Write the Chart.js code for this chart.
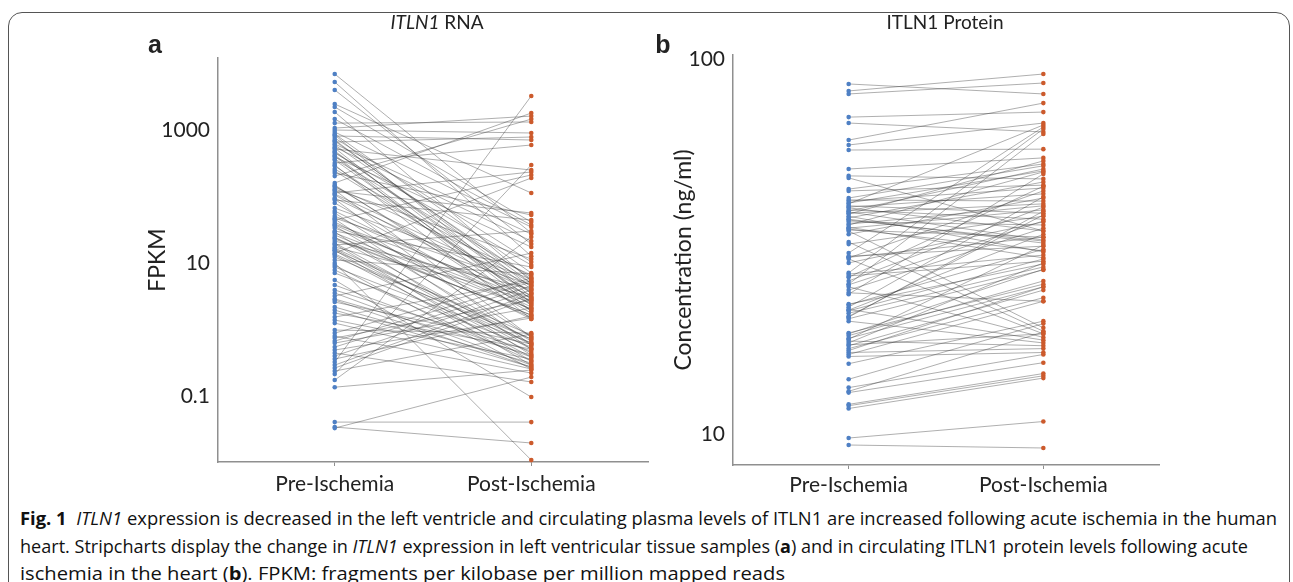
<!DOCTYPE html>
<html>
<head>
<meta charset="utf-8">
<script src="https://cdn.jsdelivr.net/npm/chart.js@4.4.1/dist/chart.umd.min.js"></script>
<style>
	body { margin: 0; width: 1293px; height: 582px; overflow: hidden; background: #fff; position: relative; font-family: Lato, sans-serif; color: #222; }
	#frame { position: absolute; left: 8px; top: 12px; width: 1280px; height: 640px; border: 1.5px solid #555; border-radius: 14px; }
	canvas { position: absolute; top: 0; }
	#chart-a { left: 0; }
	#chart-b { left: 640px; }
	.panel-title { position: absolute; font-size: 19px; transform: translate(-50%, -50%); white-space: nowrap; }
	.panel-tag { position: absolute; font-family: "Liberation Sans", Arial, sans-serif; font-weight: bold; font-size: 25px; transform: translate(-50%, -50%); }
	#caption { position: absolute; left: 20px; top: 504px; font-family: "Open Sans", sans-serif; font-size: 18.5px; color: #111; line-height: 27.5px; }
	#caption div { white-space: nowrap; }
	#caption span { display: inline-block; transform-origin: 0 50%; }
</style>
</head>
<body>
<div id="frame"></div>
<canvas id="chart-a" width="660" height="500"></canvas>
<canvas id="chart-b" width="653" height="500"></canvas>
<div class="panel-tag" style="left:155px; top:44px;">a</div>
<div class="panel-tag" style="left:663px; top:44px;">b</div>
<div class="panel-title" style="left:437px; top:21px;"><i>ITLN1</i> RNA</div>
<div class="panel-title" style="left:945px; top:21px;">ITLN1 Protein</div>
<div id="caption">
	<div><span data-w="1257"><b>Fig. 1</b>&nbsp; <i>ITLN1</i> expression is decreased in the left ventricle and circulating plasma levels of ITLN1 are increased following acute ischemia in the human</span></div>
	<div><span data-w="1228">heart. Stripcharts display the change in <i>ITLN1</i> expression in left ventricular tissue samples (<b>a</b>) and in circulating ITLN1 protein levels following acute</span></div>
	<div><span data-w="765">ischemia in the heart (<b>b</b>). FPKM: fragments per kilobase per million mapped reads</span></div>
</div>
<script>
	var groups = ['Pre-Ischemia', 'Post-Ischemia'];

	// panel a: FPKM per sample, same order in both arrays (pairs)
	var rnaPre = [6950, 5270, 4000, 2460, 2220, 1870, 1270, 1070, 1000, 933, 871, 813, 758, 708, 660, 555, 518, 483, 451, 421,
		393, 366, 319, 288, 259, 226, 160, 149, 139, 130, 121, 113, 105, 94.9, 88.6, 67.1, 60.5, 56.5, 47.5, 44.3,
		41.4, 38.6, 36.0, 33.6, 30.3, 28.3, 24.6, 23.0, 21.4, 20.0, 18.7, 17.4, 16.3, 15.2, 14.1, 13.2, 12.3, 11.1, 10.0, 8.71,
		7.85, 7.08, 5.55, 3.93, 3.54, 3.19, 2.88, 2.18, 1.96, 1.54, 1.39, 1.25, 0.982, 0.885, 0.798, 0.745, 0.671, 0.627, 0.546, 0.492,
		0.444, 0.400, 0.360, 0.324, 0.292, 0.264, 0.238, 0.214, 0.174, 0.136, 0.0406, 0.0342, 0.0330, 1460, 616, 203, 79.8, 26.4, 2.59, 1.77,
		841, 684, 536, 467, 406, 354, 298, 242, 144, 125, 109, 91.7, 50.9, 45.9, 37.3, 29.3, 23.8, 19.3, 16.8, 15.6,
		13.7, 9.33, 4.67, 2.78, 595];
	var rnaPost = [28.3, 12.7, 19.3, 113, 41.4, 5.36, 1320, 1620, 902, 34.8, 7.08, 708, 10.4, 4.36, 785, 21.4, 250, 3.54, 9.33, 2.34,
		17.4, 6.16, 595, 2.88, 5.00, 52.7, 1800, 1.90, 6.61, 11.5, 56.5, 234, 2.68, 3.79, 44.3, 5.75, 2.18, 0.771, 4.67, 211,
		1.44, 3.30, 0.671, 2.50, 8.71, 2.03, 0.585, 1.65, 4.06, 0.509, 30.3, 3.08, 0.444, 0.826, 190, 0.386, 0.719, 6.84, 0.0109, 0.627,
		0.336, 0.546, 0.0966, 0.475, 0.292, 14.1, 0.414, 0.313, 0.273, 5.36, 0.360, 0.255, 0.885, 5.95, 0.222, 2.78, 5.18, 2.11, 4.51, 1.49,
		0.163, 3.93, 1.60, 3250, 3.42, 2.98, 0.855, 298, 24.6, 0.246, 0.0406, 0.0197, 0.193, 37.3, 27.3, 1460, 1.77, 1.54, 0.605, 0.509,
		3.08, 5.00, 2.50, 4.06, 1.90, 2.88, 1.44, 3.54, 2.34, 0.771, 4.67, 0.585, 2.68, 0.509, 2.03, 0.414, 1.65, 0.336, 0.719, 0.292,
		0.627, 0.255, 0.386, 0.273, 5.75];
	var rnaTicks = [0.1, 10, 1000];

	// panel b: plasma ITLN1, ng/ml
	var protPre = [85.8, 82.2, 80.7, 70.0, 67.5, 60.8, 59.0, 57.2, 50.9, 48.8, 48.2, 45.0, 44.5, 42.6, 42.1, 41.8, 41.1, 40.6, 40.3, 39.6,
		39.3, 39.1, 38.8, 38.1, 37.7, 37.4, 36.8, 36.1, 35.6, 35.4, 35.0, 34.8, 34.1, 32.5, 32.1, 30.4, 29.8, 29.5, 29.3, 28.6,
		26.9, 26.7, 26.4, 25.6, 25.1, 24.7, 24.2, 23.6, 22.2, 22.1, 21.8, 21.5, 21.4, 21.0, 20.6, 20.3, 20.0, 18.6, 18.3, 18.0,
		17.9, 17.7, 17.5, 17.2, 16.9, 16.5, 16.3, 16.1, 15.4, 14.0, 13.3, 13.0, 12.9, 12.0, 11.9, 11.7, 9.76, 9.35,
		41.3, 40.1, 38.6, 37.2, 36.3, 35.2, 26.2, 25.0, 21.3, 20.5, 18.5, 16.7, 17.3, 23.8, 29.6];
	var protPost = [80.7, 91.2, 86.3, 72.2, 63.9, 76.3, 67.5, 57.5, 54.5, 47.9, 34.8, 52.5, 46.1, 51.9, 41.8, 45.3, 66.7, 38.8, 43.7, 37.4,
		50.9, 32.9, 41.1, 30.6, 47.0, 32.3, 36.1, 50.0, 29.5, 39.6, 33.5, 19.2, 42.6, 18.8, 38.1, 65.9, 31.7, 44.5, 18.5, 36.8,
		65.1, 30.0, 28.9, 40.3, 63.1, 18.1, 35.4, 49.4, 28.4, 31.1, 42.9, 17.8, 34.1, 27.9, 38.4, 27.4, 17.5, 25.1, 25.6, 24.7,
		31.9, 17.2, 28.6, 24.2, 23.1, 16.9, 22.6, 16.5, 20.0, 19.7, 16.3, 18.7, 15.5, 14.5, 14.3, 14.1, 10.8, 9.18,
		50.3, 34.8, 53.5, 32.7, 40.6, 30.8, 45.8, 37.0, 29.3, 39.3, 27.5, 24.7, 18.5, 22.6, 33.5];
	var protTicks = [10, 100];

	var blue = '#4f80c4';
	var orange = '#cc5a2c';
	var axisColor = '#8f8f8f';

	var buildDatasets = function(pre, post) {
		var sets = [];
		sets.push({
			data: pre.map(function(v) { return {x: 1, y: v}; }),
			showLine: false, pointRadius: 2.3, pointBorderWidth: 0,
			pointBackgroundColor: blue, order: 0
		});
		sets.push({
			data: post.map(function(v) { return {x: 2, y: v}; }),
			showLine: false, pointRadius: 2.3, pointBorderWidth: 0,
			pointBackgroundColor: orange, order: 0
		});
		for (var i = 0; i < pre.length; i++) {
			sets.push({
				data: [{x: 1, y: pre[i]}, {x: 2, y: post[i]}],
				showLine: true, pointRadius: 0,
				borderColor: 'rgba(55, 55, 55, 0.4)', borderWidth: 1,
				order: 1
			});
		}
		return sets;
	};

	var makeChart = function(id, pre, post, opts) {
		return new Chart(document.getElementById(id), {
			type: 'scatter',
			data: { datasets: buildDatasets(pre, post) },
			options: {
				responsive: false,
				animation: false,
				devicePixelRatio: 1,
				events: [],
				clip: false,
				layout: { padding: opts.padding },
				plugins: { legend: { display: false }, tooltip: { enabled: false } },
				scales: {
					x: {
						type: 'linear', min: 0.406, max: 2.594,
						afterBuildTicks: function(scale) { scale.ticks = [{value: 1}, {value: 2}]; },
						afterFit: function(scale) { scale.height = opts.xHeight; },
						ticks: {
							padding: opts.xPad, color: '#222', font: { family: 'Lato', size: 21 },
							callback: function(value) { return groups[value - 1]; }
						},
						grid: { drawOnChartArea: false, tickLength: 4, color: axisColor },
						border: { color: axisColor, width: 1.5 }
					},
					y: {
						type: 'logarithmic', min: opts.min, max: opts.max,
						afterBuildTicks: function(scale) {
							scale.ticks = opts.ticks.map(function(v) { return {value: v}; });
						},
						afterFit: function(scale) { scale.width = opts.yWidth; },
						ticks: {
							padding: 8, color: '#222', font: { family: 'Lato', size: 21 },
							callback: function(value) { return String(value); }
						},
						grid: { display: true, drawOnChartArea: false, drawTicks: false, color: axisColor },
						border: { color: axisColor, width: 1.5 },
						title: {
							display: true, text: opts.yTitle, color: '#222',
							font: { family: 'Lato', size: 23 }
						}
					}
				}
			}
		});
	};

	makeChart('chart-a', rnaPre, rnaPost, {
		padding: { left: 140, top: 58, right: 12, bottom: 0 },
		yWidth: 78, xHeight: 38, xPad: 6,
		min: 0.0102, max: 12100, ticks: rnaTicks, yTitle: 'FPKM'
	});

	makeChart('chart-b', protPre, protPost, {
		padding: { left: 26, top: 55, right: 134, bottom: 0 },
		yWidth: 67, xHeight: 35, xPad: 4,
		min: 8.27, max: 102.5, ticks: protTicks, yTitle: 'Concentration (ng/ml)'
	});

	// squeeze caption lines to the reference widths
	Array.from(document.querySelectorAll('#caption span')).forEach(function(line) {
		var w = line.getBoundingClientRect().width;
		line.style.transform = 'scaleX(' + (parseFloat(line.getAttribute('data-w')) / w) + ')';
	});
</script>
</body>
</html>
